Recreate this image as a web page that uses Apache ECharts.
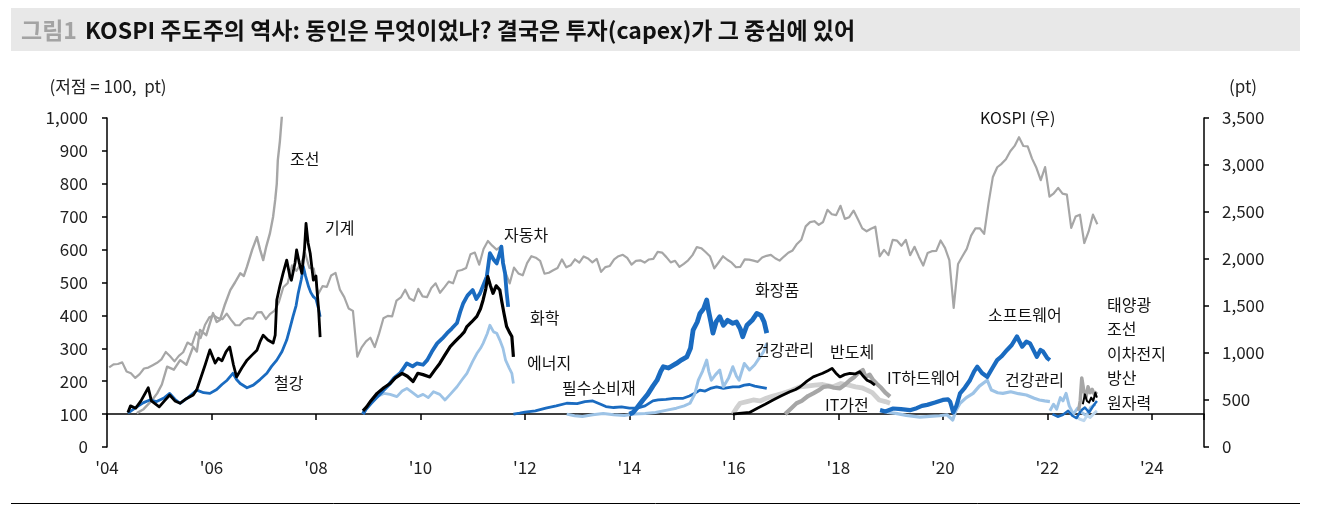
<!DOCTYPE html>
<html><head><meta charset="utf-8">
<script src="https://cdn.jsdelivr.net/npm/echarts@6/dist/echarts.min.js"></script>
<style>html,body{margin:0;padding:0;background:#fff}#c{width:1322px;height:508px}</style>
</head><body><div id="c"></div>
<script>
// ---------- axis ticks ----------
const xTickYears = [2004,2006,2008,2010,2012,2014,2016,2018,2020,2022,2024];
const xTickLabels = ["'04","'06","'08","'10","'12","'14","'16","'18","'20","'22","'24"];
const leftTicks = [0,100,200,300,400,500,600,700,800,900,1000];
const rightTicks = [0,500,1000,1500,2000,2500,3000,3500];

// ---------- KOSPI monthly (right axis), from 2004-01 ----------
const kospiStartYear = 2004;
const kospiMonthly = [
 848,880,883,900,803,785,735,776,835,845,870,896,
 932,1011,965,911,970,1008,1111,1083,1221,1158,1297,1379,
 1399,1371,1359,1419,1353,1295,1297,1352,1371,1364,1432,1434,
 1360,1417,1452,1543,1700,1743,1933,1873,1946,2064,1906,1897,
 1624,1711,1704,1825,1852,1674,1594,1474,1448,960,1060,1124,
 1162,1063,1206,1369,1395,1390,1557,1591,1673,1581,1555,1682,
 1602,1594,1692,1741,1641,1698,1759,1742,1872,1883,1904,2051,
 2069,1939,2106,2192,2142,2100,2133,1860,1740,1909,1847,1826,
 1956,2030,2014,1981,1843,1854,1881,1905,1996,1912,1933,1997,
 1962,2027,2005,1964,2001,1863,1914,1926,1997,2030,2045,2011,
 1941,1980,1986,1962,1995,2002,2076,2068,2020,1964,1981,1916,
 1949,1986,2041,2127,2115,2074,2030,1900,1963,2029,1992,1961,
 1912,1917,1996,1994,1983,1970,2016,2034,2044,2008,1983,2026,
 2067,2091,2160,2205,2347,2392,2402,2363,2394,2523,2476,2467,
 2566,2427,2445,2515,2423,2326,2295,2322,2343,2029,2097,2041,
 2204,2195,2141,2204,2041,2130,2025,1930,2063,2083,2087,2197,
 2119,1987,1480,1947,2029,2108,2249,2326,2327,2267,2591,2873,
 2976,3013,3061,3147,3203,3296,3202,3199,3068,2970,2839,2977,
 2663,2699,2757,2695,2685,2332,2451,2472,2170,2293,2472,2370
];

// ---------- sector series (left axis, trough = 100) : [year, value] ----------
const ship07 = [[2004.57,103],[2004.7,115],[2004.85,140],[2004.96,163],[2005.05,190],[2005.15,244],[2005.28,235],[2005.4,264],[2005.52,250],[2005.65,305],[2005.72,290],[2005.78,356],[2005.9,340],[2006.03,407],[2006.1,380],[2006.16,386],[2006.25,430],[2006.36,477],[2006.45,500],[2006.55,528],[2006.62,520],[2006.68,548],[2006.78,600],[2006.87,638],[2006.93,600],[2006.99,568],[2007.05,610],[2007.12,650],[2007.18,700],[2007.22,751],[2007.25,800],[2007.27,872],[2007.31,930],[2007.35,1010]];
const machinery = [[2004.4,105],[2004.45,125],[2004.55,118],[2004.65,140],[2004.79,180],[2004.85,140],[2005.0,122],[2005.1,140],[2005.2,158],[2005.3,140],[2005.4,133],[2005.5,145],[2005.65,158],[2005.72,175],[2005.78,203],[2005.88,250],[2005.97,295],[2006.07,255],[2006.13,270],[2006.2,262],[2006.28,290],[2006.35,304],[2006.42,250],[2006.48,213],[2006.58,240],[2006.68,264],[2006.78,280],[2006.87,294],[2006.93,320],[2006.99,340],[2007.08,325],[2007.18,316],[2007.22,340],[2007.25,447],[2007.31,490],[2007.37,528],[2007.44,568],[2007.5,520],[2007.53,507],[2007.6,560],[2007.63,599],[2007.68,560],[2007.73,528],[2007.78,600],[2007.81,680],[2007.85,620],[2007.89,589],[2007.95,507],[2008.0,520],[2008.02,477],[2008.05,420],[2008.08,334]];
const steel = [[2004.4,103],[2004.55,120],[2004.7,135],[2004.82,143],[2004.95,138],[2005.1,150],[2005.2,163],[2005.3,145],[2005.4,133],[2005.55,150],[2005.72,173],[2005.85,165],[2005.97,163],[2006.1,175],[2006.2,190],[2006.3,203],[2006.41,224],[2006.48,205],[2006.55,193],[2006.68,180],[2006.8,188],[2006.93,205],[2007.06,224],[2007.15,245],[2007.25,264],[2007.35,290],[2007.44,325],[2007.5,360],[2007.56,396],[2007.62,430],[2007.66,467],[2007.72,510],[2007.76,548],[2007.8,520],[2007.86,487],[2007.9,470],[2007.95,457],[2008.0,450],[2008.05,420],[2008.08,396]];
const autos = [[2008.9,100],[2008.95,115],[2009.05,133],[2009.15,150],[2009.29,173],[2009.4,190],[2009.5,210],[2009.61,224],[2009.68,240],[2009.74,254],[2009.85,245],[2009.93,254],[2010.05,250],[2010.13,264],[2010.22,290],[2010.32,315],[2010.42,330],[2010.51,346],[2010.6,360],[2010.7,377],[2010.76,410],[2010.82,437],[2010.9,460],[2011.0,477],[2011.07,450],[2011.14,467],[2011.2,490],[2011.27,518],[2011.33,589],[2011.4,570],[2011.46,558],[2011.52,590],[2011.55,609],[2011.58,560],[2011.62,528],[2011.65,470],[2011.68,426]];
const chemicals = [[2008.9,110],[2008.97,122],[2009.05,140],[2009.17,163],[2009.3,180],[2009.42,193],[2009.52,210],[2009.65,224],[2009.75,215],[2009.86,199],[2009.95,224],[2010.05,220],[2010.18,213],[2010.28,235],[2010.37,254],[2010.47,280],[2010.57,305],[2010.66,320],[2010.76,336],[2010.84,350],[2010.89,366],[2010.98,380],[2011.08,397],[2011.15,420],[2011.2,447],[2011.25,480],[2011.29,518],[2011.34,490],[2011.39,467],[2011.45,490],[2011.52,477],[2011.56,440],[2011.6,406],[2011.65,366],[2011.7,350],[2011.75,336],[2011.78,274]];
const energy = [[2008.9,100],[2009.0,125],[2009.08,140],[2009.17,153],[2009.3,163],[2009.42,160],[2009.55,153],[2009.65,170],[2009.74,178],[2009.85,165],[2009.95,153],[2010.05,160],[2010.15,150],[2010.25,168],[2010.37,160],[2010.47,143],[2010.57,160],[2010.7,183],[2010.8,205],[2010.89,224],[2011.0,260],[2011.08,284],[2011.15,300],[2011.2,315],[2011.28,345],[2011.33,370],[2011.4,350],[2011.46,346],[2011.52,325],[2011.58,300],[2011.63,264],[2011.7,240],[2011.75,224],[2011.78,193]];
const staples = [[2011.78,100],[2011.9,103],[2012.0,106],[2012.2,110],[2012.4,118],[2012.6,125],[2012.8,133],[2013.0,132],[2013.15,138],[2013.3,140],[2013.45,130],[2013.55,123],[2013.7,120],[2013.85,122],[2014.0,118],[2014.15,118],[2014.3,125],[2014.45,140],[2014.55,143],[2014.7,145],[2014.85,148],[2015.03,148],[2015.15,155],[2015.25,163],[2015.35,173],[2015.45,170],[2015.55,178],[2015.67,183],[2015.8,178],[2015.98,183],[2016.1,183],[2016.2,188],[2016.3,190],[2016.4,185],[2016.5,182],[2016.63,178]];
const cosmetics = [[2014.0,100],[2014.07,105],[2014.15,120],[2014.26,143],[2014.35,160],[2014.45,185],[2014.53,203],[2014.6,230],[2014.65,244],[2014.75,240],[2014.9,254],[2015.0,265],[2015.1,274],[2015.17,300],[2015.22,355],[2015.3,380],[2015.35,406],[2015.42,420],[2015.48,447],[2015.52,410],[2015.56,380],[2015.6,346],[2015.66,380],[2015.73,396],[2015.8,370],[2015.88,385],[2015.98,376],[2016.05,380],[2016.12,360],[2016.17,335],[2016.25,370],[2016.35,385],[2016.44,406],[2016.52,400],[2016.58,380],[2016.63,346]];
const health1 = [[2012.8,100],[2012.95,95],[2013.1,93],[2013.3,98],[2013.5,102],[2013.7,98],[2013.9,96],[2014.1,100],[2014.3,102],[2014.5,105],[2014.72,112],[2014.9,118],[2015.05,125],[2015.16,133],[2015.25,160],[2015.32,203],[2015.4,230],[2015.48,264],[2015.52,230],[2015.57,203],[2015.65,220],[2015.73,234],[2015.8,183],[2015.9,210],[2015.98,244],[2016.05,215],[2016.1,203],[2016.2,254],[2016.3,234],[2016.4,250],[2016.5,274],[2016.57,290],[2016.63,315]];
const itHardware = [[2015.98,100],[2016.05,118],[2016.12,133],[2016.25,138],[2016.37,143],[2016.5,140],[2016.62,148],[2016.75,155],[2016.94,163],[2017.1,172],[2017.27,183],[2017.4,185],[2017.55,188],[2017.7,190],[2017.9,183],[2018.05,193],[2018.2,188],[2018.33,183],[2018.45,180],[2018.55,173],[2018.65,165],[2018.78,143],[2018.9,138],[2018.99,133]];
const semis = [[2015.98,100],[2016.1,102],[2016.3,105],[2016.45,118],[2016.6,130],[2016.75,143],[2016.9,155],[2017.07,168],[2017.18,175],[2017.27,183],[2017.4,200],[2017.52,213],[2017.6,218],[2017.7,224],[2017.8,232],[2017.88,239],[2017.95,225],[2018.03,213],[2018.12,220],[2018.22,224],[2018.32,222],[2018.41,229],[2018.48,215],[2018.55,203],[2018.62,198],[2018.7,188]];
const itAppliance = [[2016.98,100],[2017.1,118],[2017.2,133],[2017.3,140],[2017.42,155],[2017.52,163],[2017.62,172],[2017.72,183],[2017.82,185],[2017.92,180],[2018.03,178],[2018.13,190],[2018.22,203],[2018.3,212],[2018.38,225],[2018.47,234],[2018.52,213],[2018.6,220],[2018.66,205],[2018.73,193],[2018.82,180],[2018.9,165],[2018.99,153]];
const software = [[2018.8,112],[2018.9,108],[2019.05,117],[2019.2,115],[2019.37,112],[2019.5,118],[2019.6,125],[2019.7,128],[2019.85,135],[2020.0,143],[2020.1,145],[2020.14,138],[2020.2,105],[2020.26,125],[2020.33,163],[2020.42,180],[2020.52,203],[2020.6,230],[2020.66,244],[2020.75,225],[2020.85,213],[2020.95,240],[2021.04,264],[2021.12,275],[2021.23,295],[2021.32,310],[2021.42,336],[2021.47,320],[2021.52,305],[2021.6,320],[2021.67,315],[2021.75,290],[2021.8,274],[2021.87,295],[2021.92,290],[2022.0,270],[2022.05,264]];
const health2 = [[2018.8,112],[2018.95,105],[2019.1,102],[2019.3,96],[2019.56,91],[2019.75,93],[2019.94,95],[2020.08,98],[2020.19,82],[2020.25,110],[2020.33,133],[2020.45,150],[2020.58,163],[2020.7,185],[2020.85,203],[2020.93,173],[2021.05,165],[2021.15,163],[2021.3,168],[2021.45,162],[2021.6,158],[2021.75,148],[2021.85,143],[2021.95,140],[2022.05,138]];
const solar = [[2022.05,110],[2022.12,130],[2022.18,115],[2022.25,150],[2022.3,140],[2022.36,163],[2022.42,125],[2022.5,100],[2022.58,118],[2022.66,105],[2022.75,95],[2022.83,120],[2022.92,130]];
const battery = [[2022.1,100],[2022.2,92],[2022.3,98],[2022.4,110],[2022.48,95],[2022.56,88],[2022.64,110],[2022.72,120],[2022.8,105],[2022.88,125],[2022.95,140]];
const ship22 = [[2022.6,110],[2022.63,140],[2022.66,210],[2022.7,170],[2022.74,150],[2022.78,183],[2022.82,165],[2022.86,175],[2022.9,160],[2022.95,168]];
const defense = [[2022.68,130],[2022.72,160],[2022.76,140],[2022.8,135],[2022.84,150],[2022.88,140],[2022.92,165],[2022.95,150]];
const nuclear = [[2022.55,95],[2022.62,85],[2022.7,80],[2022.76,95],[2022.82,90],[2022.88,100],[2022.95,110]];

// ---------- build ----------
const FONT = '"Noto Sans CJK KR","Noto Sans",sans-serif';
const BLUE = '#1a6bc0', LBLUE = '#9dc3e6', VLBLUE = '#bdd7ee', GRAY = '#a6a6a6', LGRAY = '#d0d0d0', BLACK = '#000000';

const kospiData = kospiMonthly.map((v, i) => [kospiStartYear + (i + 0.5) / 12, v]);

function line(name, data, color, width, axis) {
  return { name, type: 'line', data, yAxisIndex: axis || 0, xAxisIndex: 0, showSymbol: false, symbol: 'none',
    lineStyle: { color, width, join: 'round' }, itemStyle: { color }, clip: true, animation: false, silent: true };
}

const series = [
  line('KOSPI', kospiData, GRAY, 2.2, 1),
  line('조선', ship07, GRAY, 2.4),
  line('철강', steel, BLUE, 2.8),
  line('기계', machinery, BLACK, 2.8),
  line('에너지', energy, LBLUE, 2.8),
  line('자동차', autos, BLUE, 3.8),
  line('화학', chemicals, BLACK, 3.2),
  line('필수소비재', staples, BLUE, 2.8),
  line('건강관리', health1, LBLUE, 3),
  line('화장품', cosmetics, BLUE, 4.8),
  line('IT하드웨어', itHardware, LGRAY, 4.8),
  line('IT가전', itAppliance, GRAY, 4.2),
  line('반도체', semis, BLACK, 2.8),
  line('건강관리 ', health2, LBLUE, 3.2),
  line('소프트웨어', software, BLUE, 4.2),
  line('태양광', solar, LBLUE, 3),
  line('원자력', nuclear, VLBLUE, 3),
  line('이차전지', battery, BLUE, 2.5),
  line('조선 ', ship22, GRAY, 3.5),
  line('방산', defense, BLACK, 2)
];

const notes = [
  ['조선', 290, 159], ['기계', 325, 228], ['철강', 274, 383],
  ['자동차', 504, 235], ['화학', 530, 318], ['에너지', 527, 363], ['필수소비재', 562, 388],
  ['화장품', 755, 290], ['건강관리', 755, 350], ['반도체', 830, 352], ['IT가전', 825, 405],
  ['IT하드웨어', 887, 378], ['소프트웨어', 988, 315], ['건강관리', 1005, 380], ['KOSPI (우)', 980, 118],
  ['태양광', 1107, 305], ['조선', 1107, 329], ['이차전지', 1107, 354], ['방산', 1107, 378], ['원자력', 1107, 403]
];

const graphics = [
  { type: 'rect', shape: { x: 11, y: 8, width: 1289, height: 43 }, style: { fill: '#e8e8e8' }, silent: true },
  { type: 'text', x: 21, y: 30, style: { text: '그림1', font: 'bold 23px ' + FONT, fill: '#a3a3a3', verticalAlign: 'middle', align: 'left' } },
  { type: 'text', x: 85, y: 30, style: { text: 'KOSPI 주도주의 역사: 동인은 무엇이었나? 결국은 투자(capex)가 그 중심에 있어', font: 'bold 23px ' + FONT, fill: '#111', verticalAlign: 'middle', align: 'left' } },
  { type: 'text', x: 108, y: 87, style: { text: '(저점 = 100,  pt)', font: '17px ' + FONT, fill: '#222', verticalAlign: 'middle', align: 'center' } },
  { type: 'text', x: 1243, y: 87, style: { text: '(pt)', font: '17px ' + FONT, fill: '#222', verticalAlign: 'middle', align: 'center' } },
  { type: 'line', shape: { x1: 11, y1: 503.5, x2: 1300, y2: 503.5 }, style: { stroke: '#000', lineWidth: 1 } }
].concat(notes.map(n => ({ type: 'text', x: n[1], y: n[2], z: 50,
  style: { text: n[0], font: '16px ' + FONT, fill: '#111', verticalAlign: 'middle', align: 'left' } })));

const gridH = 508 - 118 - 61;
const fmtNum = v => Number(v).toLocaleString('en-US');

const option = {
  animation: false,
  backgroundColor: '#fff',
  grid: { left: 107, right: 118, top: 118, bottom: 61, containLabel: false },
  xAxis: [
    { type: 'value', min: 2004, max: 2025, interval: 2, position: 'bottom',
      axisLine: { show: false }, axisTick: { show: false }, splitLine: { show: false },
      axisLabel: { fontSize: 17, fontFamily: FONT, color: '#222', margin: 12,
        formatter: v => { const i = xTickYears.indexOf(Math.round(v)); return i >= 0 ? xTickLabels[i] : ''; } } },
    { type: 'value', min: 2004, max: 2025, interval: 2, position: 'bottom', offset: -(gridH * 100 / 1000),
      axisLine: { show: true, lineStyle: { color: '#000', width: 1.5 } },
      axisTick: { show: true, length: 6, lineStyle: { color: '#000', width: 1.5 } },
      axisLabel: { show: false }, splitLine: { show: false } }
  ],
  yAxis: [
    { type: 'value', min: leftTicks[0], max: leftTicks[leftTicks.length - 1], interval: 100, position: 'left',
      axisLine: { show: true, lineStyle: { color: '#000', width: 1.5 } },
      axisTick: { show: true, length: 5, lineStyle: { color: '#000', width: 1.5 } },
      splitLine: { show: false },
      axisLabel: { fontSize: 17, fontFamily: FONT, color: '#222', margin: 19, formatter: fmtNum } },
    { type: 'value', min: rightTicks[0], max: rightTicks[rightTicks.length - 1], interval: 500, position: 'right',
      axisLine: { show: true, lineStyle: { color: '#000', width: 1.5 } },
      axisTick: { show: true, length: 5, lineStyle: { color: '#000', width: 1.5 } },
      splitLine: { show: false },
      axisLabel: { fontSize: 17, fontFamily: FONT, color: '#222', margin: 18, formatter: fmtNum } }
  ],
  series,
  graphic: graphics
};

const chart = echarts.init(document.getElementById('c'), null, { renderer: 'canvas' });
chart.setOption(option);
</script>
</body></html>
